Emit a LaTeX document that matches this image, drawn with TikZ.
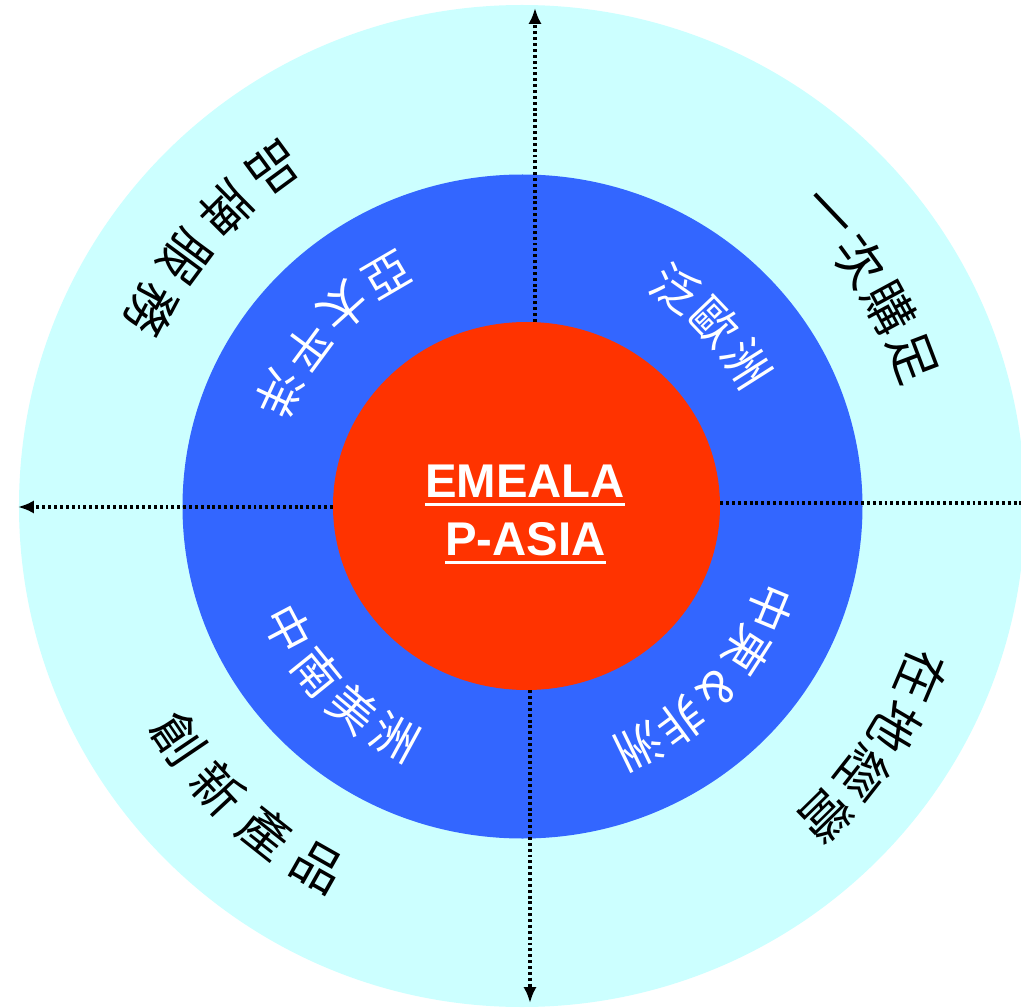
\documentclass[tikz,border=0pt]{standalone}
\usepackage{fontspec}
\setmainfont{Liberation Sans}
\newfontfamily\cjk{Noto Sans CJK TC}
\usetikzlibrary{shapes.geometric,arrows.meta,positioning}
\definecolor{ringcyan}{HTML}{CCFFFF}
\definecolor{regionblue}{HTML}{3366FF}
\definecolor{corered}{HTML}{FF3300}
\newcommand\thickul[1]{\sbox0{#1}\rlap{\rule[-6.75pt]{\wd0}{2.25pt}}\usebox0}

\begin{document}
\begin{tikzpicture}[x=0.75pt,y=0.75pt]
    \tikzset{
        disc/.style = {ellipse, inner sep=0pt, draw=none},
        axis/.style = {draw=black, line width=2.6pt, dash pattern=on 2.2pt off 2.2pt, -{Latex[length=12pt,width=10pt]}},
        outerword/.style = {font=\cjk\fontsize{38}{38}\selectfont, inner sep=0pt},
        innerword/.style = {font=\cjk\fontsize{35}{35}\selectfont, text=white, inner sep=0pt},
        hub/.style = {font=\bfseries\fontsize{35.5}{35.5}\selectfont, text=white, anchor=base},
    }
    \clip (-522,-501) rectangle (499,506);
    \fill[white] (-522,-501) rectangle (499,506);

    \node[disc, fill=ringcyan, minimum width=754.5pt, minimum height=751.5pt](ring) at (0,0) {};
    \node[disc, fill=regionblue, minimum width=510pt, minimum height=498pt](region) at (0.5,-0.5) {};
    \node[disc, fill=corered, minimum width=290.25pt, minimum height=276pt](core) at (4.5,0) {};

    \coordinate (topend) at (13,498);
    \coordinate (bottomend) at (8,-497);
    \coordinate (leftend) at (-504,-1);
    \coordinate (rightend) at (515,3);

    \path [axis] (core.north -| topend) -- (topend);
    \path [axis] (core.south -| bottomend) -- (bottomend);
    \path [axis] (core.west |- leftend) -- (leftend);
    \path [axis] (core.east |- rightend) -- (rightend);

    \node[hub](emeala) at (3,9) {\thickul{EMEALA}};
    \node[hub](pasia) at (3.5,-49) {\thickul{P-ASIA}};

    \foreach \ch [count=\i from 0] in {品,牌,服,務}
        \node[outerword, rotate={126.3+8.6*\i+90}](brand\i) at ({126.3+8.6*\i}:419) {\ch};
    \foreach \ch [count=\i from 0] in {一,次,購,足}
        \node[outerword, rotate={43.6-7.6*\i-90}](stop\i) at ({43.6-7.6*\i}:418) {\ch};
    \foreach \ch [count=\i from 0] in {在,地,經,營}
        \node[outerword, rotate={-23.1-7.5*\i-90}](local\i) at ({-23.1-7.5*\i}:434) {\ch};
    \foreach \ch [count=\i from 0] in {創,新,產,品}
        \node[outerword, rotate={-145.9+8.8*\i+90}](novel\i) at ({-145.9+8.8*\i}:415) {\ch};

    \foreach \ch [count=\i from 0] in {亞,太,平,洋}
        \node[innerword, rotate={120.3+11.6*\i+90}](apac\i) at ({120.3+11.6*\i}:267) {\ch};
    \foreach \ch [count=\i from 0] in {泛,歐,洲}
        \node[innerword, rotate={54.8-11.2*\i-90}](europe\i) at ({54.8-11.2*\i}:266) {\ch};
    \foreach \ch [count=\i from 0] in {中,東,\&,非,洲}
        \node[innerword, rotate={-22.4-10.4*\i-90}](mea\i) at ({-22.4-10.4*\i}:268) {\ch};
    \foreach \ch [count=\i from 0] in {中,南,美,洲}
        \node[innerword, rotate={-152.2+11.2*\i+90}](latam\i) at ({-152.2+11.2*\i}:264) {\ch};

\end{tikzpicture}
\end{document}
